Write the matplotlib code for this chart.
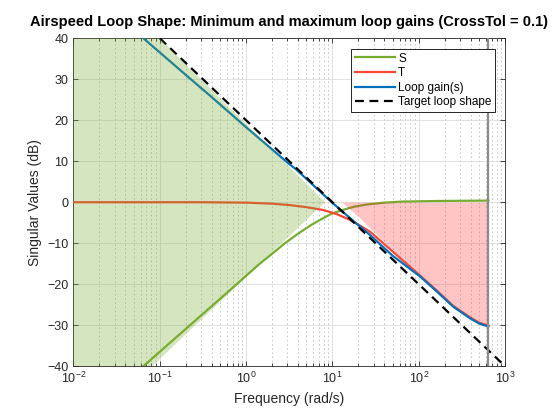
import numpy as np
import matplotlib
matplotlib.use("Agg")
import matplotlib.pyplot as plt
from matplotlib.ticker import LogLocator, NullFormatter

plt.rcParams['font.family'] = ['Liberation Sans', 'DejaVu Sans']
plt.rcParams['mathtext.default'] = 'regular'

# values: log10(freq in rad/s) -> dB
logw_L = [-1.3, -1.19, -0.64, -0.418, 0.0, 0.489, 0.586, 0.992, 1.2, 1.436,
          1.7, 2.015, 2.2, 2.40, 2.594, 2.70, 2.806]
db_L = [42.0, 40.0, 30.0, 26.0, 18.3, 9.5, 7.9, 0.0, -3.8, -8.0,
        -13.1, -18.1, -21.6, -25.5, -28.3, -29.6, -30.3]

logw_S = [-1.3, -1.19, -0.65, -0.109, 0.141, 0.3, 0.45, 0.6, 0.75, 0.9, 0.99,
          1.1, 1.25, 1.4, 1.6, 1.8, 2.2, 2.806]
db_S = [-42.0, -40.0, -30.0, -20.0, -15.3, -12.6, -10.0, -7.7, -5.6, -3.8, -2.8,
        -2.0, -1.1, -0.55, -0.1, 0.15, 0.3, 0.4]

logw_T = [-2.0, -0.5, 0.0, 0.3, 0.509, 0.7, 0.895, 1.05, 1.204, 1.32, 1.436,
          1.6, 1.8, 2.015, 2.2, 2.4, 2.594, 2.7, 2.806]
db_T = [0.0, 0.0, -0.1, -0.35, -0.7, -1.2, -1.9, -2.9, -4.3, -5.7, -7.2,
        -10.2, -13.9, -17.9, -21.4, -25.3, -28.1, -29.4, -30.1]

w_target = [0.1, 1000.0]
db_target = [40.0, -40.0]

# min loop gain region (green) and max loop gain region (red)
w_min_region = [0.01, 0.1, 8.2, 0.082, 0.01]
db_min_region = [40.0, 40.0, 0.0, -40.0, -40.0]

logw_max_region = [1.11, 1.3, 1.55, 1.8, 2.0, 2.2, 2.4, 2.55, 2.68, 2.75, 2.806]
db_max_region = [0.0, -3.5, -8.7, -13.5, -17.4, -21.3, -25.0, -27.3, -29.0, -29.6, -29.9]

w_nyquist = 630.0

green = '#77AC30'
red = '#FF4433'
blue = '#0072BD'
txt = '#262626'

fig = plt.figure(figsize=(5.6, 4.2), dpi=100)
ax = fig.add_axes([0.131, 0.128, 0.771, 0.781])

ax.plot(10 ** np.array(logw_S), db_S, color=green, lw=1.6, label='S', zorder=3)
ax.plot(10 ** np.array(logw_T), db_T, color=red, lw=1.6, label='T', zorder=3)
ax.plot(10 ** np.array(logw_L), db_L, color=blue, lw=1.6, label='Loop gain(s)', zorder=3)
ax.plot(w_target, db_target, color='k', lw=1.6, ls=(0, (4, 2.5)),
        label='Target loop shape', zorder=4)

ax.fill(w_min_region, db_min_region, color=green, alpha=0.3, lw=0, zorder=5)
ax.fill_between(10 ** np.array(logw_max_region), db_max_region, 0,
                color='#FF2222', alpha=0.26, lw=0, zorder=5)
ax.axvline(w_nyquist, color='#8c8c8c', lw=1.6, zorder=6)

ax.set_xscale('log')
ax.set_xlim(1e-2, 1e3)
ax.set_ylim(-40, 40)
ax.set_yticks(np.arange(-40, 41, 10))
ax.xaxis.set_major_locator(LogLocator(base=10, numticks=10))
ax.xaxis.set_minor_locator(LogLocator(base=10, subs=np.arange(2, 10), numticks=100))
ax.xaxis.set_minor_formatter(NullFormatter())

ax.grid(True, which='major', color='#dcdcdc', lw=0.6)
ax.grid(True, which='minor', axis='x', color='#c0c0c0', lw=0.6, ls=(0, (2, 3)))
ax.set_axisbelow(True)

ax.tick_params(which='both', direction='in', top=True, right=True,
               colors=txt, labelsize=9, width=0.6)
ax.tick_params(which='major', length=3.5)
ax.tick_params(which='minor', length=2)
for s in ax.spines.values():
    s.set_color(txt)
    s.set_linewidth(0.6)

ax.set_title('Airspeed Loop Shape: Minimum and maximum loop gains (CrossTol = 0.1)',
             fontsize=10.5, fontweight='bold', color='black', pad=9)
ax.set_xlabel('Frequency (rad/s)', fontsize=10, color=txt)
ax.set_ylabel('Singular Values (dB)', fontsize=10, color=txt)

leg = ax.legend(loc='upper right', bbox_to_anchor=(0.977, 0.967), fontsize=8.5,
                handlelength=3.4, borderpad=0.3, labelspacing=0.22,
                handletextpad=0.3, fancybox=False, framealpha=1, borderaxespad=0)
leg.get_frame().set_edgecolor('black')
leg.get_frame().set_linewidth(0.6)
leg.set_zorder(10)

fig.savefig('out.png', dpi=100)
